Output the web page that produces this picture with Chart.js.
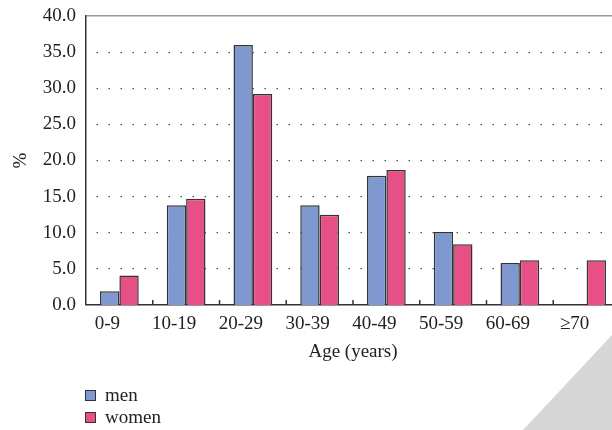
<!DOCTYPE html>
<html><head><meta charset="utf-8">
<script src="https://cdn.jsdelivr.net/npm/chart.js@4"></script>
<style>
html,body{margin:0;padding:0;overflow:hidden;background:#fff;width:612px;height:430px;}
#wrap{position:relative;width:612px;height:430px;overflow:hidden;}
#c{position:absolute;left:0;top:0;}
#legend{position:absolute;left:85px;top:384px;font-family:"Liberation Serif",serif;font-size:19px;color:#222;}
.item{display:flex;align-items:center;height:22px;}
.sw{width:9px;height:9px;border:1.5px solid #333;margin-right:9px;}
#fold{position:absolute;left:0;top:0;width:612px;height:430px;background:#d7d7d7;clip-path:polygon(523px 430px,612px 335px,612px 430px);}
</style></head>
<body><div id="wrap"><canvas id="c" width="625" height="430" style="width:625px;height:430px"></canvas><div id="legend"></div><div id="fold"></div></div>
<script>
const categories = ['0-9','10-19','20-29','30-39','40-49','50-59','60-69','≥70'];
const menValues = [1.9, 13.8, 36.0, 13.8, 17.9, 10.1, 5.8, null];
const womenValues = [4.1, 14.7, 29.2, 12.5, 18.7, 8.4, 6.2, 6.2];
const seriesNames = ['men', 'women'];
const seriesColors = ['#7f98cf', '#e65086'];
const yAxisTitle = '%';
const xAxisTitle = 'Age (years)';

Chart.defaults.font.family = '"Liberation Serif", "Times New Roman", serif';
Chart.defaults.font.size = 19;
Chart.defaults.color = '#222';

const innerTicks = {
  id: 'innerTicks',
  afterDraw(chart) {
    const xs = chart.scales.x, ctx = chart.ctx, b = chart.chartArea.bottom;
    ctx.save();
    ctx.strokeStyle = '#333'; ctx.lineWidth = 1.5;
    for (let i = 1; i < categories.length; i++) {
      const x = (xs.getPixelForValue(i - 1) + xs.getPixelForValue(i)) / 2;
      ctx.beginPath(); ctx.moveTo(x, b); ctx.lineTo(x, b - 5); ctx.stroke();
    }
    ctx.restore();
  }
};

const chart = new Chart(document.getElementById('c'), {
  type: 'bar',
  data: {
    labels: categories,
    datasets: [
      { label: seriesNames[0], data: menValues, backgroundColor: seriesColors[0], borderColor: '#333', borderWidth: 1.5 },
      { label: seriesNames[1], data: womenValues, backgroundColor: seriesColors[1], borderColor: '#333', borderWidth: 1.5 }
    ]
  },
  options: {
    responsive: false,
    animation: false,
    devicePixelRatio: 1,
    layout: { padding: { top: 16, right: 5, left: 0, bottom: 0 } },
    plugins: { legend: { display: false }, tooltip: { enabled: false } },
    datasets: { bar: { categoryPercentage: 0.58, barPercentage: 1.0 } },
    scales: {
      x: {
        afterFit(s) { s.height = 125; s.paddingLeft = 0; s.paddingRight = 0; },
        grid: { display: false },
        border: { display: true, color: '#333', width: 1.5 },
        ticks: { padding: 0, labelOffset: -12, maxRotation: 0, autoSkip: false },
        title: { display: true, text: xAxisTitle, padding: { top: 0, bottom: 67 } }
      },
      y: {
        min: 0, max: 40,
        afterFit(s) { s.width = 86; s.paddingTop = 0; s.paddingBottom = 0; },
        grid: {
          drawTicks: false,
          color: c => c.tick && c.tick.value === 40 ? '#9a9a9a' : '#555',
          lineWidth: c => c.tick && c.tick.value === 0 ? 0 : (c.tick && c.tick.value === 40 ? 1.5 : 1.2)
        },
        border: { display: true, color: '#333', width: 1.5,
          dash: c => c.tick && c.tick.value === 40 ? [] : [1.5, 10.5], dashOffset: -10 },
        ticks: { stepSize: 5, padding: 10, callback: v => Number(v).toFixed(1) },
        title: { display: true, text: yAxisTitle, padding: { top: 10, bottom: 0 } }
      }
    }
  },
  plugins: [innerTicks]
});

const lg = document.getElementById('legend');
chart.data.datasets.forEach(ds => {
  const it = document.createElement('div'); it.className = 'item';
  const sw = document.createElement('span'); sw.className = 'sw'; sw.style.background = ds.backgroundColor;
  const tx = document.createElement('span'); tx.textContent = ds.label;
  it.appendChild(sw); it.appendChild(tx); lg.appendChild(it);
});
</script>
</body></html>
